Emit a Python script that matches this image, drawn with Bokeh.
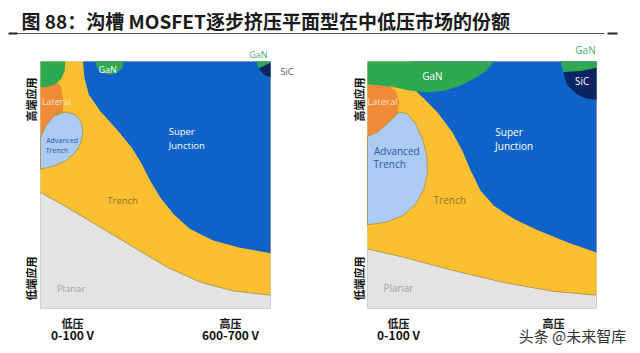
import numpy as np
from bokeh.plotting import figure
from bokeh.models import Range1d
from bokeh.core.properties import value
from bokeh.embed import file_html
from bokeh.resources import INLINE

W, H = 640, 353

# ---------------- data (normalised: u = voltage 0..1, v = frequency/end 0..1) -------------
TITLE = "图 88：沟槽 MOSFET逐步挤压平面型在中低压市场的份额"
Y_LABELS = ["高端应用", "低端应用"]
X_LABELS_LEFT = [["低压", "0-100 V"], ["高压", "600-700 V"]]
X_LABELS_RIGHT = [["低压", "0-100 V"], ["高压", ""]]
WATERMARK = "头条 @未来智库"

# ---- left panel
L_PLANAR_U = [0, 0.116, 0.26, 0.405, 0.549, 0.694, 0.838, 1.0]
L_PLANAR_V = [0.47, 0.409, 0.329, 0.248, 0.168, 0.107, 0.071, 0.054]
L_SJ_U = [0.185, 0.191, 0.21, 0.26, 0.332, 0.397, 0.441, 0.477, 0.52, 0.578, 0.65, 0.751, 0.867, 1.0]
L_SJ_V = [1.0, 0.933, 0.866, 0.799, 0.725, 0.651, 0.584, 0.517, 0.45, 0.383, 0.322, 0.275, 0.246, 0.224]
L_LAT_U = [0, 0.072, 0.091, 0.098, 0.098, 0.087, 0.062, 0.029, 0]
L_LAT_V = [0.919, 0.919, 0.893, 0.846, 0.792, 0.752, 0.721, 0.701, 0.691]
L_ADV_U = [0, 0.022, 0.058, 0.108, 0.152, 0.178, 0.185, 0.173, 0.147, 0.108, 0.058, 0]
L_ADV_V = [0.691, 0.738, 0.779, 0.796, 0.785, 0.752, 0.711, 0.664, 0.627, 0.597, 0.577, 0.564]
L_GAN1_U = [0, 0.108, 0.105, 0.091, 0.065, 0.033, 0]
L_GAN1_V = [1.0, 1.0, 0.962, 0.93, 0.909, 0.898, 0.895]
L_GAN2_U = [0.238, 0.246, 0.267, 0.301, 0.333, 0.355, 0.362]
L_GAN2_V = [1.0, 0.976, 0.956, 0.946, 0.954, 0.973, 1.0]
L_GAN3_U = [0.939, 1.0, 1.0, 0.948]
L_GAN3_V = [1.0, 1.0, 0.996, 0.972]
L_SIC_U = [0.948, 1.0, 1.0, 0.97]
L_SIC_V = [0.972, 0.996, 0.935, 0.947]

# ---- right panel
R_PLANAR_U = [0, 0.16, 0.378, 0.596, 0.814, 1.0]
R_PLANAR_V = [0.241, 0.207, 0.153, 0.105, 0.069, 0.054]
R_SJ_U = [0.19, 0.203, 0.247, 0.305, 0.371, 0.414, 0.451, 0.494, 0.552, 0.64, 0.741, 0.872, 1.0]
R_SJ_V = [1.0, 0.889, 0.849, 0.795, 0.714, 0.639, 0.558, 0.477, 0.416, 0.362, 0.318, 0.268, 0.227]
R_LAT_U = [0, 0.087, 0.124, 0.138, 0.131, 0.102, 0.058, 0]
R_LAT_V = [0.903, 0.905, 0.882, 0.835, 0.788, 0.741, 0.714, 0.697]
R_ADV_U = [0, 0.044, 0.094, 0.138, 0.174, 0.211, 0.24, 0.259, 0.262, 0.247, 0.211, 0.153, 0.08, 0]
R_ADV_V = [0.697, 0.714, 0.754, 0.795, 0.788, 0.747, 0.686, 0.619, 0.551, 0.484, 0.423, 0.376, 0.349, 0.339]
R_GAN1_U = [0, 0.552, 0.516, 0.465, 0.407, 0.334, 0.262, 0.189, 0.102, 0]
R_GAN1_V = [1.0, 1.0, 0.961, 0.93, 0.903, 0.882, 0.874, 0.882, 0.899, 0.907]
R_SIC_U = [0.855, 0.872, 0.916, 0.959, 1.0, 1.0]
R_SIC_V = [0.957, 0.905, 0.865, 0.849, 0.845, 0.975]
R_GAN3_U = [0.843, 1.0, 1.0, 0.93, 0.855]
R_GAN3_V = [1.0, 1.0, 0.975, 0.962, 0.957]

# labels: (text, u, v, size, colour)
L_TEXTS = [
    ("GaN", 0.292, 0.966, "9px", "#ffffff"),
    ("Lateral", 0.069, 0.839, "9px", "#fbe3cf"),
    ("Advanced", 0.094, 0.681, "7px", "#2f58a6"),
    ("Trench", 0.072, 0.638, "7px", "#2f58a6"),
    ("Super", 0.614, 0.715, "9.5px", "#ffffff"),
    ("Junction", 0.636, 0.658, "9.5px", "#ffffff"),
    ("Trench", 0.357, 0.439, "9.5px", "#8a7638"),
    ("Planar", 0.133, 0.081, "9.5px", "#a3a3a3"),
    ("GaN", 0.947, 1.03, "9px", "#3fae6e"),
    ("SiC", 1.072, 0.96, "9px", "#4a5672"),
]
R_TEXTS = [
    ("GaN", 0.283, 0.943, "10px", "#ffffff"),
    ("Lateral", 0.065, 0.838, "9.5px", "#fbe3cf"),
    ("Advanced", 0.128, 0.639, "10px", "#2f58a6"),
    ("Trench", 0.097, 0.585, "10px", "#2f58a6"),
    ("Super", 0.618, 0.714, "10px", "#ffffff"),
    ("Junction", 0.64, 0.659, "10px", "#ffffff"),
    ("Trench", 0.359, 0.439, "10px", "#8a7638"),
    ("Planar", 0.135, 0.082, "10px", "#a3a3a3"),
    ("GaN", 0.952, 1.047, "10px", "#3fae6e"),
    ("SiC", 0.9375, 0.92, "10px", "#ffffff"),
]

# ---------------- colours / layout -------------
C_GRAY = "#e3e3e3"
C_YEL = "#fcbf30"
C_BLUE = "#0f63c8"
C_ORANGE = "#ef8b36"
C_LBLUE = "#abcbf3"
C_GREEN = "#2fa852"
C_NAVY = "#0b2462"
C_EDGE = "#a99456"

LEFT = dict(x0=40, w=230, bottom=308, h=247, ylab_x=30, xlab=[72, 230])
RIGHT = dict(x0=367, w=229, bottom=308, h=247, ylab_x=358, xlab=[398, 553])

p = figure(width=W, height=H, x_range=Range1d(0, W), y_range=Range1d(0, H),
           output_backend="svg", toolbar_location=None, min_border=0)
p.axis.visible = False
p.grid.visible = False
p.outline_line_color = None
p.background_fill_color = "white"
p.border_fill_color = "white"

CJK = value("Noto Sans CJK SC")
LAT = value("Open Sans")


def X(pn, u):
    return list(pn["x0"] + np.asarray(u, dtype=float) * pn["w"])


def Y(pn, v):
    return list((H - pn["bottom"]) + np.asarray(v, dtype=float) * pn["h"])


def panel(pn, d, texts, xlabels):
    # background planar
    p.patch(X(pn, [0, 1, 1, 0]), Y(pn, [0, 0, 1, 1]), fill_color=C_GRAY,
            line_color="#cfcfcf", line_width=1)
    # trench (yellow) above planar boundary
    pu = d["planar_u"] + [1, 0]
    pv = d["planar_v"] + [1, 1]
    p.patch(X(pn, pu), Y(pn, pv), fill_color=C_YEL, line_color=None)
    p.line(X(pn, d["planar_u"]), Y(pn, d["planar_v"]), line_color=C_EDGE, line_width=0.9)
    # super junction
    su = d["sj_u"] + [1]
    sv = d["sj_v"] + [1]
    p.patch(X(pn, su), Y(pn, sv), fill_color=C_BLUE, line_color=None)
    # lateral
    p.patch(X(pn, d["lat_u"]), Y(pn, d["lat_v"]), fill_color=C_ORANGE, line_color=None)
    # advanced trench
    p.patch(X(pn, d["adv_u"]), Y(pn, d["adv_v"]), fill_color=C_LBLUE,
            line_color=C_EDGE, line_width=0.9)
    # GaN / SiC
    for gu, gv in d["gan"]:
        p.patch(X(pn, gu), Y(pn, gv), fill_color=C_GREEN, line_color=None)
    p.patch(X(pn, d["sic_u"]), Y(pn, d["sic_v"]), fill_color=C_NAVY, line_color=None)
    for gu, gv in d.get("gan_top", []):
        p.patch(X(pn, gu), Y(pn, gv), fill_color=C_GREEN, line_color=None)
    # texts
    for t, u, v, s, c in texts:
        p.text(X(pn, [u]), Y(pn, [v]), text=[t], text_align="center", text_baseline="middle",
               text_font=LAT, text_font_size=s, text_color=c)
    # y labels (rotated)
    p.text([pn["ylab_x"]] * 2, [H - 99, H - 278], text=Y_LABELS, angle=np.pi / 2,
           text_align="center", text_baseline="middle", text_font=CJK,
           text_font_style="bold", text_font_size="11px", text_color="#111111")
    # x labels
    for xc, (a, b) in zip(pn["xlab"], xlabels):
        p.text([xc], [H - 322], text=[a], text_align="center", text_baseline="middle",
               text_font=CJK, text_font_style="bold", text_font_size="11px", text_color="#111111")
        if b:
            p.text([xc], [H - 334], text=[b], text_align="center", text_baseline="middle",
                   text_font=CJK, text_font_style="bold", text_font_size="12px",
                   text_color="#111111")


panel(LEFT, dict(planar_u=L_PLANAR_U, planar_v=L_PLANAR_V, sj_u=L_SJ_U, sj_v=L_SJ_V,
                 lat_u=L_LAT_U, lat_v=L_LAT_V, adv_u=L_ADV_U, adv_v=L_ADV_V,
                 gan=[(L_GAN1_U, L_GAN1_V), (L_GAN2_U, L_GAN2_V)],
                 gan_top=[(L_GAN3_U, L_GAN3_V)],
                 sic_u=L_SIC_U, sic_v=L_SIC_V), L_TEXTS, X_LABELS_LEFT)
panel(RIGHT, dict(planar_u=R_PLANAR_U, planar_v=R_PLANAR_V, sj_u=R_SJ_U, sj_v=R_SJ_V,
                  lat_u=R_LAT_U, lat_v=R_LAT_V, adv_u=R_ADV_U, adv_v=R_ADV_V,
                  gan=[(R_GAN1_U, R_GAN1_V)],
                  gan_top=[(R_GAN3_U, R_GAN3_V)],
                  sic_u=R_SIC_U, sic_v=R_SIC_V), R_TEXTS, X_LABELS_RIGHT)

# watermark
p.text([572], [H - 335], text=[WATERMARK], text_align="center", text_baseline="middle",
       text_font=CJK, text_font_size="15px", text_color="#333333")

# title and rule
p.text([21], [H - 20], text=[TITLE], text_align="left", text_baseline="middle",
       text_font=CJK, text_font_style="bold", text_font_size="19px", text_color="#1a1a1a")
p.line([17, 604], [H - 33, H - 33], line_color="#555555", line_width=1.2)
p.line([8, 17], [H - 33, H - 33], line_color="#222222", line_width=2)
p.line([607, 617], [H - 33, H - 33], line_color="#222222", line_width=2)

open("out.html", "w").write(file_html(p, INLINE))
